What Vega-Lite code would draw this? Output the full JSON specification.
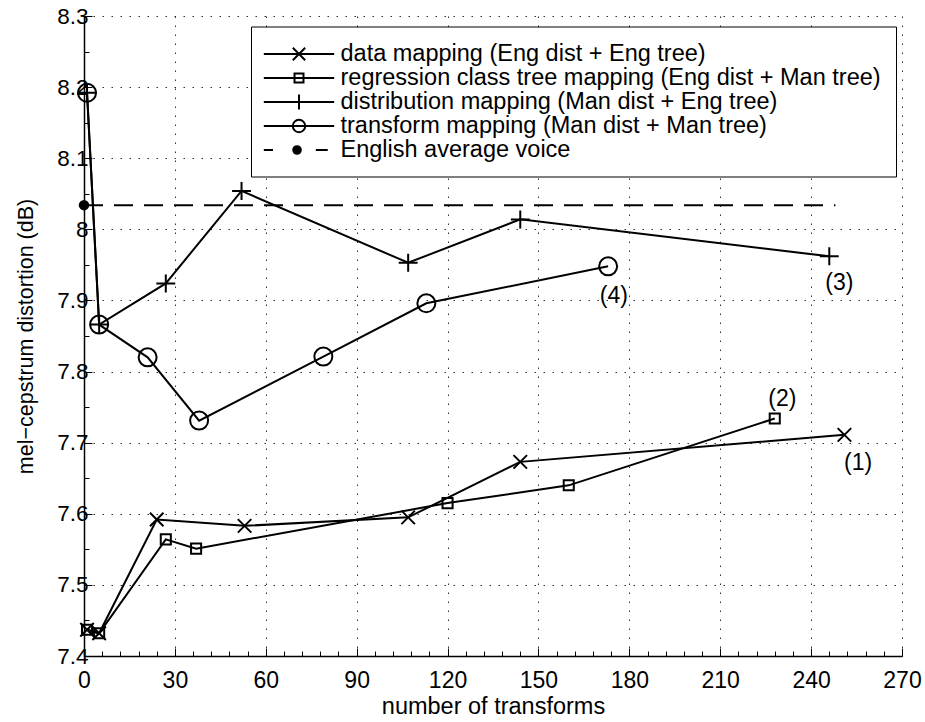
{
  "$schema": "https://vega.github.io/schema/vega-lite/v6.json",
  "width": 818,
  "height": 640,
  "autosize": {"type": "none"},
  "padding": {"left": 84, "top": 16, "right": 23, "bottom": 66},
  "background": "white",
  "config": {
    "view": {"stroke": null},
    "font": "Liberation Sans"
  },
  "datasets": {
    "series": [
      {"series": "data mapping (Eng dist + Eng tree)", "x": 1, "y": 7.437},
      {"series": "data mapping (Eng dist + Eng tree)", "x": 5, "y": 7.432},
      {"series": "data mapping (Eng dist + Eng tree)", "x": 24, "y": 7.592},
      {"series": "data mapping (Eng dist + Eng tree)", "x": 53, "y": 7.583},
      {"series": "data mapping (Eng dist + Eng tree)", "x": 107, "y": 7.595},
      {"series": "data mapping (Eng dist + Eng tree)", "x": 144, "y": 7.673},
      {"series": "data mapping (Eng dist + Eng tree)", "x": 251, "y": 7.711},
      {"series": "regression class tree mapping (Eng dist + Man tree)", "x": 1, "y": 7.437},
      {"series": "regression class tree mapping (Eng dist + Man tree)", "x": 5, "y": 7.432},
      {"series": "regression class tree mapping (Eng dist + Man tree)", "x": 27, "y": 7.564},
      {"series": "regression class tree mapping (Eng dist + Man tree)", "x": 37, "y": 7.551},
      {"series": "regression class tree mapping (Eng dist + Man tree)", "x": 120, "y": 7.615},
      {"series": "regression class tree mapping (Eng dist + Man tree)", "x": 160, "y": 7.640},
      {"series": "regression class tree mapping (Eng dist + Man tree)", "x": 228, "y": 7.734},
      {"series": "distribution mapping (Man dist + Eng tree)", "x": 1, "y": 8.192},
      {"series": "distribution mapping (Man dist + Eng tree)", "x": 5, "y": 7.866},
      {"series": "distribution mapping (Man dist + Eng tree)", "x": 27, "y": 7.924},
      {"series": "distribution mapping (Man dist + Eng tree)", "x": 52, "y": 8.054},
      {"series": "distribution mapping (Man dist + Eng tree)", "x": 107, "y": 7.953},
      {"series": "distribution mapping (Man dist + Eng tree)", "x": 144, "y": 8.014},
      {"series": "distribution mapping (Man dist + Eng tree)", "x": 246, "y": 7.962},
      {"series": "transform mapping (Man dist + Man tree)", "x": 1, "y": 8.192},
      {"series": "transform mapping (Man dist + Man tree)", "x": 5, "y": 7.866},
      {"series": "transform mapping (Man dist + Man tree)", "x": 21, "y": 7.820},
      {"series": "transform mapping (Man dist + Man tree)", "x": 38, "y": 7.731},
      {"series": "transform mapping (Man dist + Man tree)", "x": 79, "y": 7.821},
      {"series": "transform mapping (Man dist + Man tree)", "x": 113, "y": 7.896},
      {"series": "transform mapping (Man dist + Man tree)", "x": 173, "y": 7.948},
      {"series": "English average voice", "x": 0, "y": 8.034},
      {"series": "English average voice", "x": 248, "y": 8.034}
    ],
    "labels": [
      {"label": "(1)", "x": 255.5, "y": 7.671},
      {"label": "(2)", "x": 230.5, "y": 7.762},
      {"label": "(3)", "x": 249.3, "y": 7.925},
      {"label": "(4)", "x": 174.9, "y": 7.906}
    ]
  },
  "encoding": {
    "x": {
      "field": "x",
      "type": "quantitative",
      "scale": {"domain": [0, 270], "nice": false, "zero": false},
      "axis": {
        "title": "number of transforms",
        "values": [0,6,12,18,24,30,36,42,48,54,60,66,72,78,84,90,96,102,108,114,120,126,132,138,144,150,156,162,168,174,180,186,192,198,204,210,216,222,228,234,240,246,252,258,264,270],
        "labelExpr": "datum.value % 30 === 0 ? datum.label : ''",
        "labelFlush": false,
        "labelOverlap": false,
        "grid": true,
        "gridOpacity": {"condition": {"test": "datum.value % 30 === 0", "value": 1}, "value": 0},
        "gridDash": [1.5, 7.5],
        "gridColor": "#333333",
        "gridWidth": 1,
        "tickSize": {"condition": {"test": "datum.value % 30 === 0", "value": -8}, "value": -5},
        "tickColor": "black",
        "tickWidth": 1,
        "domainColor": "black",
        "domainWidth": 1.5,
        "labelFont": "Liberation Sans",
        "labelFontSize": 23,
        "labelColor": "black",
        "labelPadding": 21,
        "titleFont": "Liberation Sans",
        "titleFontSize": 23.5,
        "titleFontWeight": "normal",
        "titleColor": "black",
        "titleY": 57,
        "titleBaseline": "alphabetic"
      }
    },
    "y": {
      "field": "y",
      "type": "quantitative",
      "scale": {"domain": [7.4, 8.3], "nice": false, "zero": false},
      "axis": {
        "title": "mel−cepstrum distortion (dB)",
        "values": [7.4,7.45,7.5,7.55,7.6,7.65,7.7,7.75,7.8,7.85,7.9,7.95,8.0,8.05,8.1,8.15,8.2,8.25,8.3],
        "labelExpr": "abs(round(datum.value * 20)) % 2 === 0 ? format(datum.value, '.1~f') : ''",
        "labelOverlap": false,
        "labelFlush": false,
        "grid": true,
        "gridOpacity": {"condition": {"test": "abs(round(datum.value * 20)) % 2 === 0", "value": 1}, "value": 0},
        "gridDash": [1.5, 7.5],
        "gridColor": "#333333",
        "gridWidth": 1,
        "tickSize": {"condition": {"test": "abs(round(datum.value * 20)) % 2 === 0", "value": -8}, "value": -5},
        "tickColor": "black",
        "tickWidth": 1,
        "domainColor": "black",
        "domainWidth": 1.5,
        "labelFont": "Liberation Sans",
        "labelFontSize": 22.5,
        "labelColor": "black",
        "labelPadding": 4,
        "titleFont": "Liberation Sans",
        "titleFontSize": 21.5,
        "titleFontWeight": "normal",
        "titleColor": "black",
        "titleAngle": -90,
        "titleX": -52,
        "titleY": 320,
        "titleAlign": "center",
        "titleBaseline": "alphabetic"
      }
    }
  },
  "layer": [
    {
      "data": {"name": "series"},
      "transform": [{"filter": "datum.series !== 'English average voice'"}],
      "mark": {"type": "line", "color": "black", "strokeWidth": 2},
      "encoding": {"detail": {"field": "series", "type": "nominal"}}
    },
    {
      "data": {"name": "series"},
      "transform": [{"filter": "datum.series === 'English average voice'"}],
      "mark": {"type": "line", "color": "black", "strokeWidth": 2, "strokeDash": [19, 11]},
      "encoding": {}
    },
    {
      "data": {"name": "series"},
      "transform": [{"filter": "datum.series !== 'English average voice'"}],
      "mark": {"type": "point", "filled": false, "color": "black", "strokeWidth": 2, "size": 324, "opacity": 1},
      "encoding": {
        "shape": {
          "field": "series",
          "type": "nominal",
          "scale": {
            "domain": ["data mapping (Eng dist + Eng tree)", "regression class tree mapping (Eng dist + Man tree)", "distribution mapping (Man dist + Eng tree)", "transform mapping (Man dist + Man tree)"],
            "range": [
              "M-0.75,-0.75L0.75,0.75M-0.75,0.75L0.75,-0.75",
              "M-0.56,-0.56H0.56V0.56H-0.56Z",
              "M-1.05,0H1.05M0,-1V1",
              "M1,0A1,1,0,1,1,-1,0A1,1,0,1,1,1,0Z"
            ]
          },
          "legend": null
        }
      }
    },
    {
      "data": {"name": "series"},
      "transform": [{"filter": "datum.series === 'English average voice' && datum.x === 0"}],
      "mark": {"type": "point", "shape": "circle", "filled": true, "color": "black", "size": 110, "opacity": 1},
      "encoding": {}
    },
    {
      "data": {"name": "labels"},
      "mark": {"type": "text", "font": "Liberation Sans", "fontSize": 23, "color": "black", "align": "center", "baseline": "middle"},
      "encoding": {"text": {"field": "label", "type": "nominal"}}
    },
    {
      "data": {"name": "series"},
      "mark": {"type": "point", "filled": false, "color": "black", "strokeWidth": 2, "size": 529, "opacity": 0},
      "encoding": {
        "shape": {
          "field": "series",
          "type": "nominal",
          "scale": {
            "domain": ["data mapping (Eng dist + Eng tree)", "regression class tree mapping (Eng dist + Man tree)", "distribution mapping (Man dist + Eng tree)", "transform mapping (Man dist + Man tree)", "English average voice"],
            "range": [
              "M-3.06,0H3.06M-0.54,-0.54L0.54,0.54M-0.54,0.54L0.54,-0.54",
              "M-3.06,0H3.06M-0.39,-0.39H0.39V0.39H-0.39Z",
              "M-3.06,0H3.06M0,-0.65V0.65",
              "M-3.06,0H3.06M0.54,0A0.54,0.54,0,1,1,-0.54,0A0.54,0.54,0,1,1,0.54,0Z",
              "M-3.06,0H-2.26M1.46,0H2.5M0.16,0A0.33,0.33,0,1,1,-0.5,0A0.33,0.33,0,1,1,0.16,0ZM0.03,0A0.2,0.2,0,1,1,-0.37,0A0.2,0.2,0,1,1,0.03,0ZM-0.09,0A0.08,0.08,0,1,1,-0.25,0A0.08,0.08,0,1,1,-0.09,0Z"
            ]
          },
          "legend": {
            "title": null,
            "orient": "none",
            "legendX": 167,
            "legendY": 10.5,
            "padding": 15,
            "strokeColor": "black",
            "fillColor": "white",
            "symbolSize": 529,
            "symbolStrokeWidth": 2,
            "symbolStrokeColor": "black",
            "symbolOpacity": 1,
            "symbolOffset": 20.5,
            "labelOffset": 29,
            "labelFont": "Liberation Sans",
            "labelFontSize": 23.5,
            "labelColor": "black",
            "labelLimit": 0,
            "rowPadding": -2
          }
        }
      }
    }
  ],
  "resolve": {"scale": {"shape": "independent"}}
}
